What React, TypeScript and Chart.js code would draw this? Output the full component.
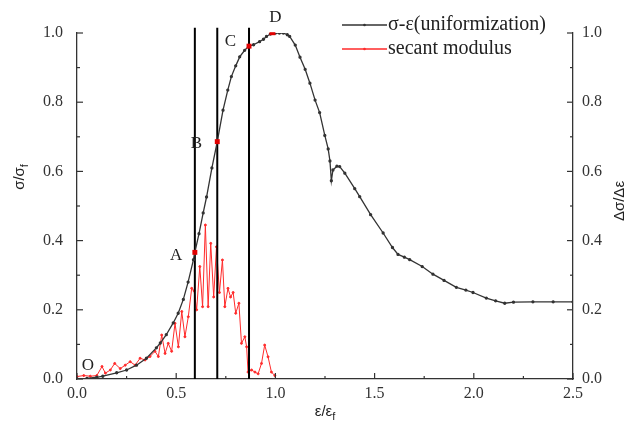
import React, { useEffect, useRef } from 'react';
import { Chart, registerables } from 'chart.js';
Chart.register(...registerables);

// σ-ε (uniformization) curve, left axis
const strainX = [0, 0.05, 0.1, 0.13, 0.2, 0.25, 0.3, 0.35, 0.4, 0.42, 0.45, 0.485, 0.51, 0.536, 0.56, 0.587, 0.594, 0.615, 0.636, 0.653, 0.68, 0.707, 0.736, 0.76, 0.778, 0.8, 0.82, 0.845, 0.867, 0.89, 0.92, 0.94, 0.955, 0.975, 0.985, 1.0, 1.02, 1.04, 1.06, 1.072, 1.1, 1.124, 1.15, 1.174, 1.2, 1.223, 1.249, 1.266, 1.275, 1.282, 1.29, 1.31, 1.324, 1.35, 1.4, 1.425, 1.48, 1.543, 1.59, 1.618, 1.65, 1.677, 1.74, 1.794, 1.85, 1.912, 1.96, 1.996, 2.063, 2.11, 2.156, 2.2, 2.298, 2.4, 2.5];
const stressY = [0, 0.002, 0.005, 0.008, 0.018, 0.026, 0.04, 0.06, 0.09, 0.104, 0.128, 0.162, 0.19, 0.23, 0.28, 0.345, 0.366, 0.42, 0.48, 0.526, 0.61, 0.686, 0.777, 0.835, 0.874, 0.905, 0.931, 0.95, 0.962, 0.966, 0.975, 0.982, 0.99, 0.997, 1.0, 1.0, 1.0, 1.0, 0.995, 0.99, 0.965, 0.93, 0.895, 0.855, 0.806, 0.77, 0.704, 0.665, 0.63, 0.573, 0.604, 0.615, 0.614, 0.595, 0.55, 0.527, 0.475, 0.422, 0.38, 0.36, 0.352, 0.345, 0.325, 0.303, 0.285, 0.265, 0.257, 0.25, 0.234, 0.226, 0.219, 0.222, 0.223, 0.223, 0.223];

// secant modulus, right axis
const secantX = [0, 0.034, 0.067, 0.1, 0.126, 0.143, 0.168, 0.19, 0.218, 0.243, 0.268, 0.293, 0.318, 0.343, 0.368, 0.393, 0.41, 0.427, 0.444, 0.46, 0.477, 0.494, 0.511, 0.528, 0.544, 0.561, 0.578, 0.59, 0.603, 0.619, 0.633, 0.647, 0.661, 0.674, 0.689, 0.703, 0.718, 0.733, 0.745, 0.761, 0.774, 0.787, 0.8, 0.816, 0.829, 0.846, 0.855, 0.862, 0.88, 0.897, 0.913, 0.93, 0.946, 0.963, 0.98, 0.997];
const secantY = [0.007, 0.01, 0.008, 0.01, 0.036, 0.017, 0.026, 0.045, 0.03, 0.04, 0.05, 0.04, 0.06, 0.055, 0.065, 0.08, 0.065, 0.127, 0.074, 0.103, 0.08, 0.161, 0.093, 0.195, 0.122, 0.18, 0.262, 0.255, 0.2, 0.325, 0.209, 0.445, 0.209, 0.392, 0.237, 0.382, 0.25, 0.344, 0.209, 0.262, 0.237, 0.25, 0.19, 0.219, 0.103, 0.122, 0.093, 0.02, 0.026, 0.02, 0.015, 0.045, 0.098, 0.064, 0.02, 0.01];

// characteristic points A, B, C (red squares + vertical guides)
const markerX = [0.594, 0.707, 0.867];
const markerY = [0.366, 0.686, 0.962];
const guideTop = 1.015;
// point D (short red segment at the peak)
const peakX = [0.97, 1.0];
const peakY = [0.998, 0.998];

// text notes
const noteLabels = ['O', 'A', 'B', 'C', 'D'];
const noteX = [0.055, 0.5, 0.602, 0.773, 1.0];
const noteY = [0.04, 0.358, 0.681, 0.975, 1.045];

const legendLabels = ['σ-ε(uniformization)', 'secant modulus'];
const xStep = 0.25;
const yStep = 0.1;

const SERIF = '"Liberation Serif", "Times New Roman", serif';
const SANS = '"Liberation Sans", Arial, sans-serif';

function drawSubText(ctx: CanvasRenderingContext2D, main: string, sub: string, x: number, y: number, rot: number, size: number) {
  ctx.save();
  ctx.translate(x, y);
  ctx.rotate(rot);
  ctx.font = `${size}px ${SANS}`;
  const w1 = ctx.measureText(main).width;
  ctx.font = `${Math.round(size * 0.7)}px ${SANS}`;
  const w2 = sub ? ctx.measureText(sub).width : 0;
  const start = -(w1 + w2) / 2;
  ctx.textBaseline = 'middle';
  ctx.textAlign = 'left';
  ctx.font = `${size}px ${SANS}`;
  ctx.fillText(main, start, 0);
  if (sub) {
    ctx.font = `${Math.round(size * 0.7)}px ${SANS}`;
    ctx.fillText(sub, start + w1, size * 0.35);
  }
  ctx.restore();
}

const decorPlugin = {
  id: 'decor',
  afterDraw(chart: any) {
    const ctx: CanvasRenderingContext2D = chart.ctx;
    const { left, right, top, bottom } = chart.chartArea;
    ctx.save();
    ctx.strokeStyle = '#333';
    ctx.lineWidth = 1.2;
    const xs = chart.scales.x;
    xs.ticks.forEach((t: any) => {
      const px = xs.getPixelForValue(t.value);
      const major = Math.round(t.value / xStep) % 2 === 0;
      const len = major ? 6 : 3;
      ctx.beginPath();
      ctx.moveTo(px, bottom);
      ctx.lineTo(px, bottom - len);
      ctx.stroke();
    });
    const ys = chart.scales.y;
    ys.ticks.forEach((t: any) => {
      const py = ys.getPixelForValue(t.value);
      const major = Math.round(t.value / yStep) % 2 === 0;
      const len = major ? 6 : 3;
      ctx.beginPath();
      ctx.moveTo(left, py);
      ctx.lineTo(left + len, py);
      ctx.stroke();
    });
    const y2 = chart.scales.y2;
    y2.ticks.forEach((t: any) => {
      const py = y2.getPixelForValue(t.value);
      const major = Math.round(t.value / yStep) % 2 === 0;
      const len = major ? 6 : 3;
      ctx.beginPath();
      ctx.moveTo(right, py);
      ctx.lineTo(right - len, py);
      ctx.stroke();
    });

    // notes
    ctx.fillStyle = '#222';
    ctx.font = `17px ${SERIF}`;
    ctx.textAlign = 'center';
    ctx.textBaseline = 'middle';
    noteLabels.forEach((s, i) => {
      ctx.fillText(s, xs.getPixelForValue(noteX[i]), ys.getPixelForValue(noteY[i]));
    });

    // legend
    const lx0 = right - 231;
    const lx1 = right - 186;
    chart.data.datasets.slice(0, 2).forEach((ds: any, i: number) => {
      const ly = top - 8 + i * 24;
      ctx.strokeStyle = ds.borderColor;
      ctx.lineWidth = 1.3;
      ctx.beginPath();
      ctx.moveTo(lx0, ly);
      ctx.lineTo(lx1, ly);
      ctx.stroke();
      ctx.fillStyle = ds.borderColor;
      ctx.beginPath();
      ctx.arc((lx0 + lx1) / 2, ly, 1.3, 0, Math.PI * 2);
      ctx.fill();
      ctx.fillStyle = '#222';
      ctx.font = `20px ${SERIF}`;
      ctx.textAlign = 'left';
      ctx.textBaseline = 'middle';
      ctx.fillText(ds.label, lx1 + 1, ly);
    });

    // axis titles
    ctx.fillStyle = '#222';
    drawSubText(ctx, 'σ/σ', 'f', left - 57, top + 144, -Math.PI / 2, 15);
    drawSubText(ctx, 'Δσ/Δε', '', right + 47, top + 168, -Math.PI / 2, 15);
    drawSubText(ctx, 'ε/ε', 'f', (left + right) / 2, bottom + 33, 0, 15);
    ctx.restore();
  },
};

export default function App() {
  const ref = useRef<HTMLCanvasElement | null>(null);
  useEffect(() => {
    if (!ref.current) return;
    const tickFont = { family: SERIF, size: 16 };
    const chart = new Chart(ref.current, {
      type: 'line',
      data: {
        datasets: [
          {
            label: legendLabels[0],
            data: strainX.map((x, i) => ({ x, y: stressY[i] })),
            borderColor: '#333333',
            backgroundColor: '#333333',
            borderWidth: 1.3,
            pointRadius: 1,
            pointHoverRadius: 0,
            tension: 0,
            yAxisID: 'y',
            order: 1,
          },
          {
            label: legendLabels[1],
            data: secantX.map((x, i) => ({ x, y: secantY[i] })),
            borderColor: '#ff2a2a',
            backgroundColor: '#ff2a2a',
            borderWidth: 1,
            pointRadius: 1,
            pointHoverRadius: 0,
            tension: 0,
            yAxisID: 'y2',
            order: 3,
          },
          ...markerX.map((x) => ({
            label: 'guide',
            data: [{ x, y: 0 }, { x, y: guideTop }],
            borderColor: '#000000',
            borderWidth: 2,
            pointRadius: 0,
            clip: false as any,
            yAxisID: 'y',
            order: 2,
          })),
          {
            label: 'points',
            data: markerX.map((x, i) => ({ x, y: markerY[i] })),
            showLine: false,
            pointStyle: 'rect',
            pointRadius: 3.5,
            backgroundColor: '#e00000',
            borderColor: '#e00000',
            borderWidth: 0,
            yAxisID: 'y',
            order: 0,
          },
          {
            label: 'peak',
            data: peakX.map((x, i) => ({ x, y: peakY[i] })),
            borderColor: '#e00000',
            borderWidth: 3,
            pointRadius: 0,
            clip: false as any,
            yAxisID: 'y',
            order: 0,
          },
        ] as any,
      },
      options: {
        responsive: false,
        animation: false,
        events: [],
        layout: { padding: { top: 33, left: 0, right: 0, bottom: 0 } },
        plugins: { legend: { display: false }, tooltip: { enabled: false } },
        scales: {
          x: {
            type: 'linear',
            min: 0,
            max: 2.5,
            afterFit: (s: any) => { s.height = 58; },
            grid: { display: true, drawOnChartArea: false, drawTicks: false },
            border: { display: true, color: '#333', width: 1.3 },
            ticks: {
              stepSize: xStep,
              autoSkip: false,
              maxRotation: 0,
              padding: 5,
              color: '#333',
              font: tickFont,
              callback: (v: any) => (Math.round(Number(v) / xStep) % 2 === 0 ? Number(v).toFixed(1) : ''),
            },
          },
          y: {
            type: 'linear',
            position: 'left',
            min: 0,
            max: 1,
            afterFit: (s: any) => { s.width = 77; },
            grid: { display: true, drawOnChartArea: false, drawTicks: false },
            border: { display: true, color: '#333', width: 1.3 },
            ticks: {
              stepSize: yStep,
              autoSkip: false,
              padding: 14,
              color: '#333',
              font: tickFont,
              callback: (v: any) => (Math.round(Number(v) / yStep) % 2 === 0 ? Number(v).toFixed(1) : ''),
            },
          },
          y2: {
            type: 'linear',
            position: 'right',
            min: 0,
            max: 1,
            afterFit: (s: any) => { s.width = 54; },
            grid: { display: true, drawOnChartArea: false, drawTicks: false },
            border: { display: true, color: '#333', width: 1.3 },
            ticks: {
              stepSize: yStep,
              autoSkip: false,
              padding: 9,
              color: '#333',
              font: tickFont,
              callback: (v: any) => (Math.round(Number(v) / yStep) % 2 === 0 ? Number(v).toFixed(1) : ''),
            },
          },
        },
      } as any,
      plugins: [decorPlugin],
    });
    return () => chart.destroy();
  }, []);
  return (
    <canvas
      ref={ref}
      width={627}
      height={437}
      style={{ position: 'fixed', left: 0, top: 0, width: 627, height: 437, background: '#fff' }}
    />
  );
}
